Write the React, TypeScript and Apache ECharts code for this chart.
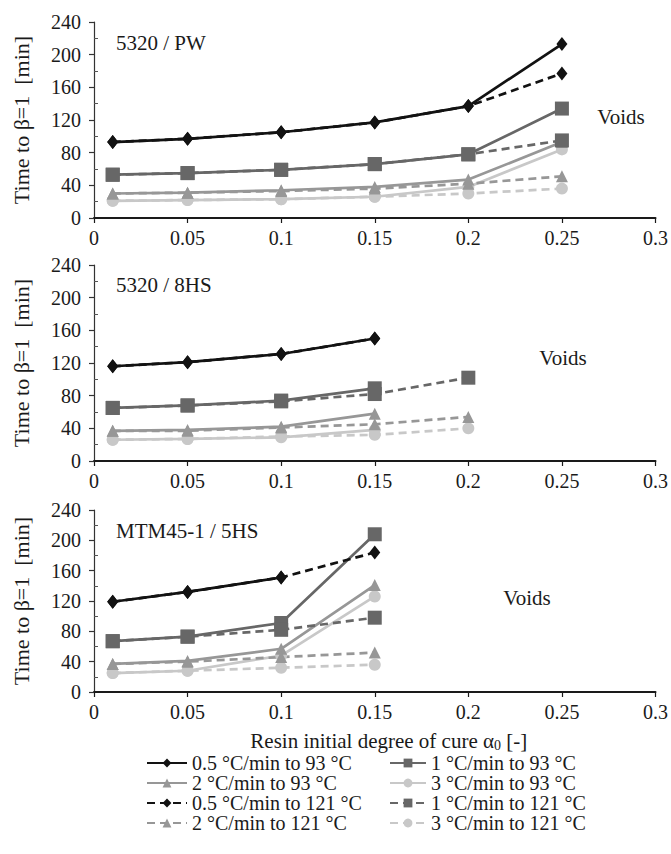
import React, { useEffect, useRef } from "react";
import * as echarts from "echarts";

const FONT = "Liberation Serif";

// x values (resin initial degree of cure)
const alphaPW = [0.01, 0.05, 0.1, 0.15, 0.2, 0.25];
const alpha8HS = [0.01, 0.05, 0.1, 0.15, 0.2];
const alpha5HS = [0.01, 0.05, 0.1, 0.15];

// Panel 1: 5320 / PW
const pw_05_93 = [93, 97, 105, 117, 137, 213];
const pw_1_93 = [53, 55, 59, 66, 78, 134];
const pw_2_93 = [30, 31, 34, 38, 47, 93];
const pw_3_93 = [21, 22, 23, 26, 38, 84];
const pw_05_121 = [93, 97, 105, 117, 137, 177];
const pw_1_121 = [53, 55, 59, 66, 78, 95];
const pw_2_121 = [30, 31, 33, 36, 42, 51];
const pw_3_121 = [21, 22, 23, 26, 30, 36];

// Panel 2: 5320 / 8HS
const hs8_05_93 = [116, 121, 131, 150, null];
const hs8_1_93 = [65, 68, 74, 89, null];
const hs8_2_93 = [37, 38, 42, 58, null];
const hs8_3_93 = [26, 27, 29, 38, null];
const hs8_05_121 = [116, 121, 131, 150, null];
const hs8_1_121 = [65, 68, 73, 82, 102];
const hs8_2_121 = [37, 37, 41, 45, 54];
const hs8_3_121 = [26, 27, 30, 32, 40];

// Panel 3: MTM45-1 / 5HS
const hs5_05_93 = [119, 132, 151, null];
const hs5_1_93 = [67, 73, 91, 208];
const hs5_2_93 = [37, 41, 57, 141];
const hs5_3_93 = [25, 28, 48, 126];
const hs5_05_121 = [119, 132, 151, 184];
const hs5_1_121 = [67, 73, 82, 98];
const hs5_2_121 = [37, 40, 46, 52];
const hs5_3_121 = [25, 28, 32, 36];

const panelLabels = ["5320 / PW", "5320 / 8HS", "MTM45-1 / 5HS"];
const yTicks = [0, 40, 80, 120, 160, 200, 240];
const xTicks = [0, 0.05, 0.1, 0.15, 0.2, 0.25, 0.3];

const N05_93 = "0.5 °C/min to 93 °C";
const N1_93 = "1 °C/min to 93 °C";
const N2_93 = "2 °C/min to 93 °C";
const N3_93 = "3 °C/min to 93 °C";
const N05_121 = "0.5 °C/min to 121 °C";
const N1_121 = "1 °C/min to 121 °C";
const N2_121 = "2 °C/min to 121 °C";
const N3_121 = "3 °C/min to 121 °C";

const panels = [
  {
    x: alphaPW,
    s: { r05_93: pw_05_93, r1_93: pw_1_93, r2_93: pw_2_93, r3_93: pw_3_93, r05_121: pw_05_121, r1_121: pw_1_121, r2_121: pw_2_121, r3_121: pw_3_121 },
  },
  {
    x: alpha8HS,
    s: { r05_93: hs8_05_93, r1_93: hs8_1_93, r2_93: hs8_2_93, r3_93: hs8_3_93, r05_121: hs8_05_121, r1_121: hs8_1_121, r2_121: hs8_2_121, r3_121: hs8_3_121 },
  },
  {
    x: alpha5HS,
    s: { r05_93: hs5_05_93, r1_93: hs5_1_93, r2_93: hs5_2_93, r3_93: hs5_3_93, r05_121: hs5_05_121, r1_121: hs5_1_121, r2_121: hs5_2_121, r3_121: hs5_3_121 },
  },
];

const seriesDefs = [
  { key: "r3_93", name: N3_93, color: "#c8c8c8", symbol: "circle", size: 12, dash: false },
  { key: "r3_121", name: N3_121, color: "#c8c8c8", symbol: "circle", size: 12, dash: true },
  { key: "r2_93", name: N2_93, color: "#979797", symbol: "triangle", size: 12, dash: false },
  { key: "r2_121", name: N2_121, color: "#979797", symbol: "triangle", size: 12, dash: true },
  { key: "r1_93", name: N1_93, color: "#676767", symbol: "rect", size: 14, dash: false },
  { key: "r1_121", name: N1_121, color: "#676767", symbol: "rect", size: 14, dash: true },
  { key: "r05_121", name: N05_121, color: "#121212", symbol: "diamond", size: [11, 14], dash: true },
  { key: "r05_93", name: N05_93, color: "#121212", symbol: "diamond", size: [11, 14], dash: false },
];

const grids = [
  { left: 94, top: 22, width: 564, height: 196 },
  { left: 94, top: 265, width: 564, height: 196 },
  { left: 94, top: 510, width: 564, height: 182 },
];

export default function App() {
  const ref = useRef<HTMLDivElement>(null);
  useEffect(() => {
    if (!ref.current) return;
    const chart = echarts.init(ref.current, null, { renderer: "svg" });

    const xAxis = grids.map((_, i) => ({
      type: "value",
      gridIndex: i,
      min: xTicks[0],
      max: xTicks[xTicks.length - 1],
      interval: 0.05,
      axisLine: { lineStyle: { color: "#1a1a1a", width: 2 } },
      axisTick: { show: true, length: 5, lineStyle: { color: "#1a1a1a", width: 1.2 } },
      axisLabel: {
        color: "#1a1a1a",
        fontFamily: FONT,
        fontSize: 20,
        margin: 10,
        formatter: (v: number) => String(parseFloat(v.toFixed(2))),
      },
      splitLine: { show: false },
      name: i === 2 ? "Resin initial degree of cure α{sub|0} [-]" : "",
      nameLocation: "middle",
      nameGap: 37,
      nameTextStyle: {
        color: "#1a1a1a",
        fontFamily: FONT,
        fontSize: 21,
        padding: [0, 0, 0, 28],
        rich: {
          sub: { fontFamily: FONT, fontSize: 14, color: "#1a1a1a", padding: [9, 0, 0, 0] },
        },
      },
    }));

    const yAxis = grids.map((_, i) => ({
      type: "value",
      gridIndex: i,
      min: yTicks[0],
      max: yTicks[yTicks.length - 1],
      interval: 40,
      axisLine: { show: true, lineStyle: { color: "#333", width: 1.2 } },
      axisTick: { show: true, length: 5, lineStyle: { color: "#333", width: 1.2 } },
      minorTick: { show: true, splitNumber: 2, length: -4, lineStyle: { color: "#555", width: 1 } },
      axisLabel: { color: "#1a1a1a", fontFamily: FONT, fontSize: 20, margin: 13 },
      splitLine: { show: false },
      name: "Time to β=1  [min]",
      nameLocation: "middle",
      nameGap: 62,
      nameTextStyle: { color: "#1a1a1a", fontFamily: FONT, fontSize: 22 },
    }));

    const series: any[] = [];
    panels.forEach((p, pi) => {
      seriesDefs.forEach((d) => {
        const vals = (p.s as any)[d.key] as (number | null)[];
        const data: number[][] = [];
        p.x.forEach((xv, k) => {
          const yv = vals[k];
          if (yv !== null && yv !== undefined) data.push([xv, yv]);
        });
        series.push({
          type: "line",
          name: d.name,
          xAxisIndex: pi,
          yAxisIndex: pi,
          data,
          symbol: d.symbol,
          symbolSize: d.size,
          showSymbol: true,
          lineStyle: { color: d.color, width: 2.7, type: d.dash ? [8, 5] : "solid" },
          itemStyle: { color: d.color, borderWidth: 0 },
          emphasis: { disabled: true },
        });
      });
    });

    const legendBase = {
      orient: "vertical",
      top: 748,
      itemHeight: 11,
      itemGap: 0,
      selectedMode: false,
      textStyle: { color: "#1a1a1a", fontFamily: FONT, fontSize: 20, lineHeight: 19.6 },
    };

    const textEls: any[] = [
      { x: 116, y: 43, t: panelLabels[0], align: "left" },
      { x: 116, y: 285, t: panelLabels[1], align: "left" },
      { x: 116, y: 531, t: panelLabels[2], align: "left" },
      { x: 621, y: 117, t: "Voids", align: "center" },
      { x: 563, y: 358, t: "Voids", align: "center" },
      { x: 527, y: 598, t: "Voids", align: "center" },
    ].map((e) => ({
      type: "text",
      x: e.x,
      y: e.y,
      style: {
        text: e.t,
        fontFamily: FONT,
        fontSize: 21,
        fill: "#1a1a1a",
        align: e.align,
        verticalAlign: "middle",
      },
    }));

    chart.setOption({
      animation: false,
      backgroundColor: "#ffffff",
      grid: grids,
      xAxis,
      yAxis,
      series,
      legend: [
        { ...legendBase, left: 141, itemWidth: 40, data: [N05_93, N2_93, N05_121, N2_121] },
        { ...legendBase, left: 384, itemWidth: 36, data: [N1_93, N3_93, N1_121, N3_121] },
      ],
      graphic: textEls,
    });

    return () => chart.dispose();
  }, []);

  return (
    <div
      ref={ref}
      style={{ position: "absolute", left: 0, top: 0, width: 671, height: 854, background: "#fff" }}
    />
  );
}
